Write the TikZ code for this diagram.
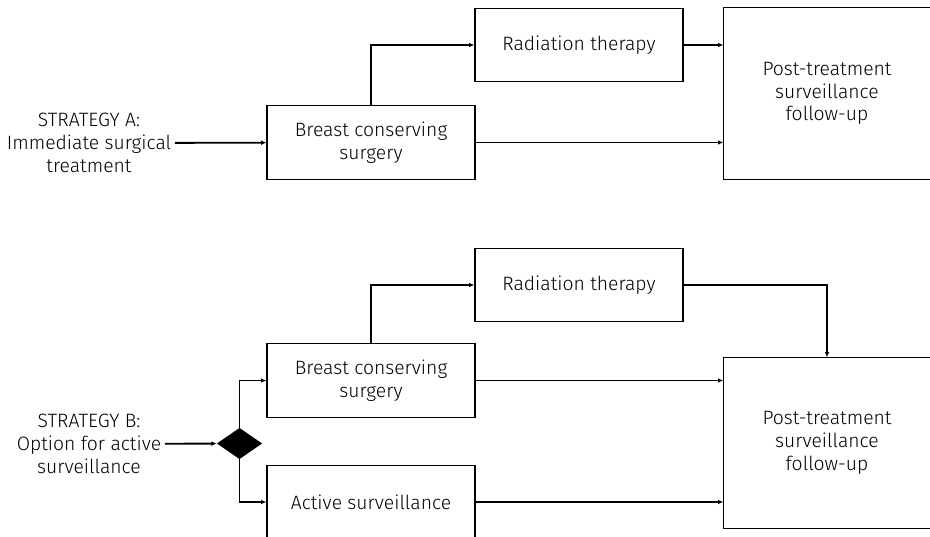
\documentclass[tikz,border=0pt]{standalone}
\usepackage{fontspec}
\setmainfont{Fira Sans}[UprightFont=* Light]
\usetikzlibrary{arrows.meta,shapes.geometric}

\begin{document}
\begin{tikzpicture}[x=0.03cm,y=-0.03cm,
    box/.style={draw,line width=1.1pt,align=center,minimum width=6.24cm,minimum height=2.2cm,inner sep=2pt},
    post/.style={box,draw=none,minimum width=6.66cm,minimum height=5.1cm},
    edge/.style={line width=1.1pt},
    strat/.style={align=center,inner sep=3pt},
    arr/.style={line width=1.6pt,-{Latex[length=4.5pt,width=4pt]}},
    font=\fontsize{16.5}{19.5}\selectfont]
\useasboundingbox (0,0) rectangle (930,537);
\clip (0,0) rectangle (930,537);

% strategy A
\node[strat] (stratA) at (89,143) {STRATEGY A:\\Immediate surgical\\treatment};
\node[box] (bcsA) at (371,142.5) {Breast conserving\\surgery};
\node[box] (rtA) at (579,45) {Radiation therapy};
\node[post] (postA) at (835,93.5) {\hspace*{-0.48cm}Post-treatment\\\hspace*{-0.48cm}surveillance\\\hspace*{-0.48cm}follow-up};
\draw[edge] (postA.north east) -- (postA.north west) |- (postA.south east);

\draw[arr] (stratA) -- (bcsA);
\draw[arr] (bcsA.north) |- (rtA.west);
\draw[arr] (rtA.east) -- (rtA.east -| postA.west);
\draw[arr] (bcsA.east) -- (bcsA.east -| postA.west);

% strategy B
\node[strat] (stratB) at (89,444) {STRATEGY B:\\Option for active\\surveillance};
\node[diamond,fill=black,inner sep=0pt,minimum width=1.36cm,minimum height=0.94cm] (dia) at (239.5,443.5) {};
\node[box] (bcsB) at (371,380.5) {Breast conserving\\surgery};
\node[box] (actB) at (371,502) {Active surveillance};
\node[box] (rtB) at (579,285) {Radiation therapy};
\node[post] (postB) at (835,443) {\hspace*{-0.48cm}Post-treatment\\\hspace*{-0.48cm}surveillance\\\hspace*{-0.48cm}follow-up};
\draw[edge] (postB.north east) -- (postB.north west) |- (postB.south east);

\draw[arr] (stratB) -- (dia);
\draw[arr] (dia.north) |- (bcsB.west);
\draw[arr] (dia.south) |- (actB.west);
\draw[arr] (bcsB.north) |- (rtB.west);
\draw[arr] (rtB.east) -| ([xshift=-0.24cm]postB.north);
\draw[arr] (bcsB.east) -- (bcsB.east -| postB.west);
\draw[arr] (actB.east) -- (actB.east -| postB.west);
\end{tikzpicture}
\end{document}
